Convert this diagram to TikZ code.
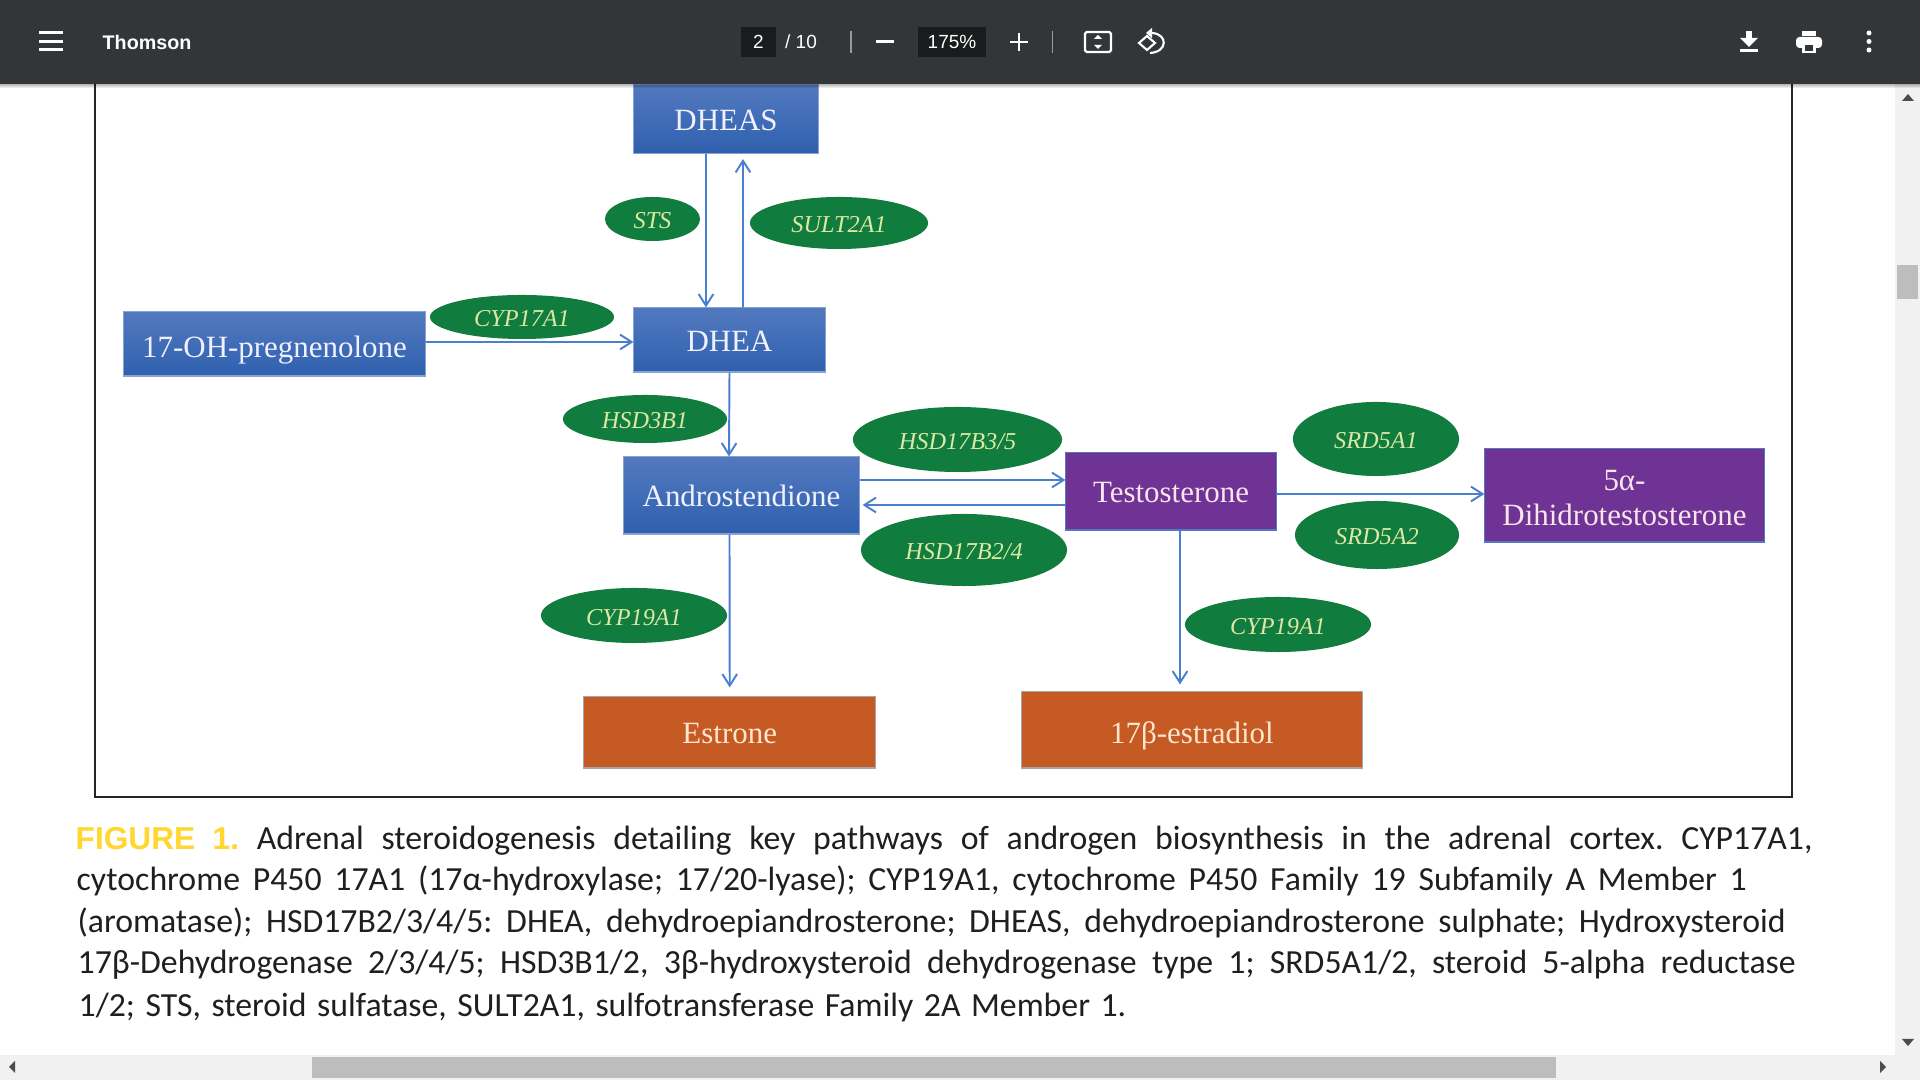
\documentclass[tikz,border=0pt]{standalone}
\usepackage{fontspec}
\setmainfont{Liberation Serif}
\newfontfamily\capfont{Carlito}
\newfontfamily\barfont{Liberation Sans}
\usepackage{xcolor}
\definecolor{barcolor}{HTML}{323639}
\definecolor{barbox}{HTML}{191B1C}
\definecolor{enzgreen}{HTML}{107C3E}
\definecolor{enztext}{HTML}{DCE8A4}
\definecolor{bluetop}{HTML}{5279BF}
\definecolor{bluebot}{HTML}{2F60AE}
\definecolor{purplebox}{HTML}{6F3396}
\definecolor{orangebox}{HTML}{C55A24}
\definecolor{linkblue}{HTML}{4A7FCF}
\definecolor{figyellow}{HTML}{FFD72E}
\definecolor{scrolltrack}{HTML}{F1F1F1}
\definecolor{scrollthumb}{HTML}{BDBDBD}
\usetikzlibrary{positioning,calc,shapes.geometric,arrows.meta}
\tikzset{
	stepnode/.style={rectangle,inner sep=0pt,align=center,font=\fontsize{8.8}{10}\selectfont},
	bluenode/.style={stepnode,top color=bluetop,bottom color=bluebot,draw=bluetop!70!white,line width=0.3pt,text=blue!6!white},
	purplenode/.style={stepnode,fill=purplebox,draw=bluetop,line width=0.3pt,text=purple!10!white},
	orangenode/.style={stepnode,fill=orangebox,draw=gray!70,line width=0.3pt,text=orange!20!white},
	oneline/.style={text height=#1,text depth=0pt},
	oneline/.default=6.5pt,
	enznode/.style={ellipse,inner sep=0pt,fill=enzgreen,text=enztext,text height=5.6pt,text depth=0pt,font=\fontsize{6.9}{8}\selectfont\itshape},
	link/.style={draw=linkblue,line width=0.55pt,-{Straight Barb[length=3.3pt,width=4.2pt]}},
	barlabel/.style={inner sep=0pt,text=white,font=\fontsize{5.4}{6}\selectfont\barfont},
	capline/.style={anchor=base west,inner sep=0pt,text=black!88,font=\fontsize{9.6}{11}\selectfont\capfont\frenchspacing},
}
\newcommand{\linefit}[2]{\makebox[#1cm][s]{#2}}
\begin{document}
\begin{tikzpicture}[x=0.01cm,y=-0.01cm]
	\useasboundingbox (0,0) rectangle (1920,1080);
	\fill[white] (0,0) rectangle (1920,1080);
	% figure frame
	\draw[line width=0.75pt,black!85] (95,60) rectangle (1792,797);
	% substances
	\node[bluenode,oneline,minimum width=1.84cm,minimum height=0.69cm] (dheas) at (726,119) {DHEAS};
	\node[bluenode,oneline,minimum width=1.91cm,minimum height=0.64cm] (dhea) at (729.5,340) {DHEA};
	\node[bluenode,oneline=7.6pt,minimum width=3.01cm,minimum height=0.64cm] (pregnenolone) at (274.5,344) {17-OH-pregnenolone};
	\node[bluenode,oneline,minimum width=2.35cm,minimum height=0.77cm] (andro) at (741.5,495.5) {Androstendione};
	\node[purplenode,oneline,minimum width=2.10cm,minimum height=0.77cm] (testo) at (1171,491.5) {Testosterone};
	\node[purplenode,minimum width=2.79cm,minimum height=0.93cm] (dihydro) at (1624.5,495.5) {\rule{0pt}{7pt}5α-\\Dihidrotestosterone};
	\node[orangenode,oneline,minimum width=2.915cm,minimum height=0.71cm] (estrone) at (729.75,732.5) {Estrone};
	\node[orangenode,oneline=7.6pt,minimum width=3.40cm,minimum height=0.76cm] (estradiol) at (1192,730) {17β-estradiol};
	% enzymes
	\node[enznode,minimum width=0.95cm,minimum height=0.44cm] (sts) at (652.5,219) {STS};
	\node[enznode,minimum width=1.78cm,minimum height=0.52cm] (sult) at (839,223) {SULT2A1};
	\node[enznode,minimum width=1.84cm,minimum height=0.44cm] (cypa) at (522,317) {CYP17A1};
	\node[enznode,minimum width=1.64cm,minimum height=0.48cm] (hsdb) at (645,419) {HSD3B1};
	\node[enznode,minimum width=2.09cm,minimum height=0.65cm] (hsdup) at (957.5,439.5) {HSD17B3/5};
	\node[enznode,minimum width=2.06cm,minimum height=0.72cm] (hsddown) at (964,550) {HSD17B2/4};
	\node[enznode,minimum width=1.66cm,minimum height=0.74cm] (srda) at (1376,439) {SRD5A1};
	\node[enznode,minimum width=1.64cm,minimum height=0.68cm] (srdb) at (1377,535) {SRD5A2};
	\node[enznode,minimum width=1.86cm,minimum height=0.55cm] (cypl) at (634,615.5) {CYP19A1};
	\node[enznode,minimum width=1.86cm,minimum height=0.55cm] (cypr) at (1278,624.5) {CYP19A1};
	% pathways
	\draw[link] ([xshift=-0.20cm]dheas.south) -- ([xshift=-0.235cm]dhea.north);
	\draw[link,shorten >=0.05cm] ([xshift=0.135cm]dhea.north) -- ([xshift=0.17cm]dheas.south);
	\draw[link] ([yshift=0.02cm]pregnenolone.east) -- ([yshift=-0.02cm]dhea.west);
	\draw[link] (dhea.south) -- ([xshift=-0.125cm]andro.north);
	\draw[link,shorten >=0.09cm] ([xshift=-0.12cm]andro.south) -- (estrone.north);
	\draw[link] ([yshift=0.155cm]andro.east) -- ([yshift=0.115cm]testo.west);
	\draw[link,shorten >=0.03cm] ([yshift=-0.135cm]testo.west) -- ([yshift=-0.095cm]andro.east);
	\draw[link] ([yshift=-0.025cm]testo.east) -- ([yshift=0.015cm]dihydro.west);
	\draw[link,shorten >=0.07cm] ([xshift=0.09cm]testo.south) -- ([xshift=-0.12cm]estradiol.north);
	% caption
	\node[capline] (capa) at (75,850) {\linefit{17.36}{{\fontsize{9}{11}\selectfont\barfont\bfseries\color{figyellow}FIGURE\hspace{0.55em}1.} Adrenal steroidogenesis detailing key pathways of androgen biosynthesis in the adrenal cortex. CYP17A1,}};
	\node[capline] (capb) at (76,891) {\linefit{16.69}{cytochrome P450 17A1 (17α-hydroxylase; 17/20-lyase); CYP19A1, cytochrome P450 Family 19 Subfamily A Member 1}};
	\node[capline] (capc) at (77,933) {\linefit{17.07}{(aromatase); HSD17B2/3/4/5: DHEA, dehydroepiandrosterone; DHEAS, dehydroepiandrosterone sulphate; Hydroxysteroid}};
	\node[capline] (capd) at (77,974) {\linefit{17.17}{17β-Dehydrogenase 2/3/4/5; HSD3B1/2, 3β-hydroxysteroid dehydrogenase type 1; SRD5A1/2, steroid 5-alpha reductase}};
	\node[capline] (cape) at (78,1017) {\linefit{10.47}{1/2; STS, steroid sulfatase, SULT2A1, sulfotransferase Family 2A Member 1.}};
	% scrollbars
	\fill[scrolltrack] (1895,84) rectangle (1920,1080);
	\fill[scrolltrack] (0,1055) rectangle (1920,1080);
	\fill[scrollthumb] (1897,265) rectangle (1918,299);
	\fill[scrollthumb] (312,1057) rectangle (1556,1078);
	\fill[black!70] (1902,101) -- (1914,101) -- (1908,94) -- cycle;
	\fill[black!70] (1902,1039) -- (1914,1039) -- (1908,1046) -- cycle;
	\fill[black!70] (15,1061) -- (15,1073) -- (9,1067) -- cycle;
	\fill[black!70] (1880,1061) -- (1880,1073) -- (1886,1067) -- cycle;
	% toolbar
	\foreach \drop in {1,2,3,4} {
		\fill[black,opacity=0.08] (0,84) rectangle (1920,84+\drop);
	}
	\fill[barcolor] (0,0) rectangle (1920,84);
	\foreach \ypos in {33,41.5,50} {
		\fill[white] (39,\ypos-1.5) rectangle (63,\ypos+1.5);
	}
	\node[barlabel,anchor=west,font=\fontsize{5.6}{6}\selectfont\barfont\bfseries] (title) at (102,42) {Thomson};
	\fill[barbox] (741,27) rectangle (776,57);
	\node[barlabel] (pagenum) at (758.5,42) {2};
	\node[barlabel] (pagetotal) at (801,42) {/ 10};
	\draw[white!50!barcolor,line width=0.4pt] (851,31) -- (851,53);
	\fill[white] (876,40.5) rectangle (894,43.5);
	\fill[barbox] (918,27) rectangle (986,57);
	\node[barlabel] (zoomlevel) at (952,42) {175\%};
	\fill[white] (1010,40.8) rectangle (1028,43.2);
	\fill[white] (1017.8,33) rectangle (1020.2,51);
	\draw[white!50!barcolor,line width=0.4pt] (1052.5,31) -- (1052.5,53);
	% toolbar icons
	\draw[white,line width=0.65pt,rounded corners=0.5pt] (1085,32) rectangle (1111,52);
	\fill[white] (1094,39) -- (1102,39) -- (1098,35) -- cycle;
	\fill[white] (1094,45) -- (1102,45) -- (1098,49) -- cycle;
	\draw[white,line width=0.6pt] (1147,36) -- (1155,43) -- (1147,50) -- (1139,43) -- cycle;
	\draw[white,line width=0.6pt] (1152,33) .. controls (1168,34) and (1168,52) .. (1150,53);
	\fill[white] (1152,28) -- (1152,38) -- (1146,33) -- cycle;
	\fill[white] (1746,31) rectangle (1752,38);
	\fill[white] (1740,38) -- (1758,38) -- (1749,47) -- cycle;
	\fill[white] (1740,49.5) rectangle (1758,52);
	\fill[white] (1802,31) rectangle (1816,36);
	\fill[white,rounded corners=1pt] (1796,37) rectangle (1822,48);
	\fill[white] (1802,43) rectangle (1816,53);
	\fill[barcolor] (1805,45) rectangle (1813,51);
	\foreach \ypos in {33,41.5,50} {
		\fill[white] (1869,\ypos) circle (0.025cm);
	}
\end{tikzpicture}
\end{document}
